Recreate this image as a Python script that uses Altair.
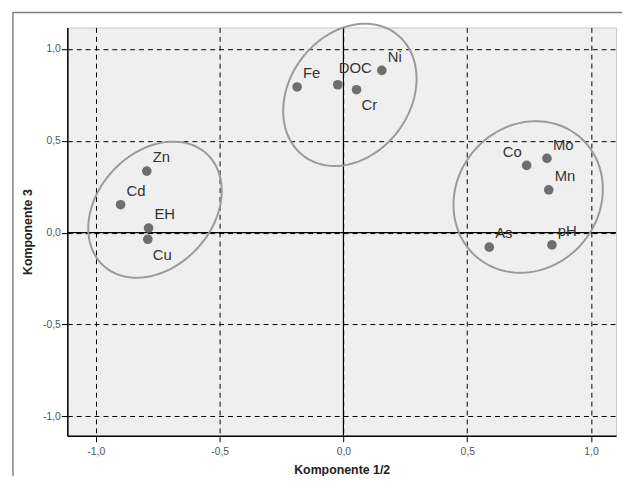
import altair as alt
import numpy as np
import pandas as pd

# ---- data ----
names = ["Zn", "Cd", "EH", "Cu", "Fe", "DOC", "Cr", "Ni", "Co", "Mo", "Mn", "As", "pH"]
comp12 = [-0.794, -0.900, -0.787, -0.790, -0.187, -0.023, 0.053, 0.155, 0.740, 0.822, 0.829, 0.589, 0.842]
comp3 = [0.335, 0.152, 0.025, -0.036, 0.793, 0.805, 0.778, 0.883, 0.366, 0.404, 0.233, -0.079, -0.067]

tick_values = [-1.0, -0.5, 0.0, 0.5, 1.0]

# group ellipses: centre (data units), semi-axes (px), tilt (deg)
ell_cx = [-0.761, 0.026, 0.746]
ell_cy = [0.125, 0.750, 0.194]
ell_a = [77.0, 77.5, 80.0]
ell_b = [58.0, 61.0, 72.0]
ell_rot = [47.0, 53.0, 49.0]

# ---- layout ----
W, H = 555, 413
xdom = [-1.115, 1.101]
ydom = [-1.106, 1.117]
kx = W / (xdom[1] - xdom[0])
ky = H / (ydom[1] - ydom[0])

placement = {"Co": "left", "Cu": "below", "Cr": "below", "DOC": "top"}
pts = pd.DataFrame({"name": names, "x": comp12, "y": comp3})
pts["place"] = [placement.get(n, "right") for n in names]

rows = []
t = np.linspace(0, 2 * np.pi, 121)
for i in range(len(ell_cx)):
    th = np.deg2rad(ell_rot[i])
    px = ell_a[i] * np.cos(t) * np.cos(th) - ell_b[i] * np.sin(t) * np.sin(th)
    py = ell_a[i] * np.cos(t) * np.sin(th) + ell_b[i] * np.sin(t) * np.cos(th)
    for j in range(len(t)):
        rows.append({"g": i, "o": j, "x": ell_cx[i] + px[j] / kx, "y": ell_cy[i] + py[j] / ky})
ell = pd.DataFrame(rows)

xs = alt.Scale(domain=xdom, nice=False, zero=False)
ys = alt.Scale(domain=ydom, nice=False, zero=False)
lab = "replace(replace(format(datum.value, '.1f'), '.', ','), '\u2212', '-')"

xaxis = alt.Axis(values=tick_values, labelExpr=lab, title="Komponente 1/2", grid=True,
                 gridDash=[5, 4], gridColor="#000000", gridWidth=1, gridOpacity=1,
                 domainColor="#000000", domainWidth=1.5, tickColor="#000000", tickSize=6,
                 labelFont="Liberation Sans", labelFontSize=10.5, labelColor="#555555", labelPadding=5,
                 titleFont="Liberation Sans", titleFontSize=12.5, titleFontWeight="bold",
                 titleColor="#222222", titlePadding=7)
yaxis = alt.Axis(values=tick_values, labelExpr=lab, title="Komponente 3", grid=True,
                 gridDash=[5, 4], gridColor="#000000", gridWidth=1, gridOpacity=1,
                 domainColor="#000000", domainWidth=1.5, tickColor="#000000", tickSize=6,
                 labelFont="Liberation Sans", labelFontSize=10.5, labelColor="#555555", labelPadding=1,
                 titleFont="Liberation Sans", titleFontSize=12.5, titleFontWeight="bold",
                 titleColor="#222222", titlePadding=8)

base = alt.Chart(pts)
pointlayer = base.mark_circle(size=95, color="#6e6e6e", opacity=1).encode(
    x=alt.X("x:Q", scale=xs, axis=xaxis),
    y=alt.Y("y:Q", scale=ys, axis=yaxis),
)

def labels(place, align, dx, dy):
    return base.transform_filter(alt.datum.place == place).mark_text(
        align=align, baseline="middle", dx=dx, dy=dy, font="Liberation Sans",
        fontSize=15, color="#333333"
    ).encode(x=alt.X("x:Q", scale=xs), y=alt.Y("y:Q", scale=ys), text="name:N")

lab_right = labels("right", "left", 6, -14)
lab_top = labels("top", "left", 1, -17)
lab_left = labels("left", "right", -5, -13)
lab_below = labels("below", "left", 5, 16)

ellipses = alt.Chart(ell).mark_line(color="#9a9a9a", strokeWidth=2).encode(
    x=alt.X("x:Q", scale=xs), y=alt.Y("y:Q", scale=ys), detail="g:N", order="o:Q"
)

zero_df = pd.DataFrame({"v": [0.0]})
vzero = alt.Chart(zero_df).mark_rule(color="#000000", strokeWidth=1.2).encode(x=alt.X("v:Q", scale=xs))
hzero = alt.Chart(zero_df).mark_rule(color="#000000", strokeWidth=1.2).encode(y=alt.Y("v:Q", scale=ys))

frame = alt.Chart(zero_df).mark_rect(fill=None, stroke="#808080", strokeWidth=1.5).encode(
    x=alt.value(-55), x2=alt.value(W + 80), y=alt.value(-15), y2=alt.value(H + 80)
)

chart = alt.layer(frame, vzero, hzero, ellipses, pointlayer, lab_right, lab_top, lab_left, lab_below).properties(
    width=W, height=H,
    autosize=alt.AutoSizeParams(type="none"),
    padding={"left": 60, "top": 17, "right": 6, "bottom": 38},
    background="#ffffff",
).configure_view(fill="#efefef", stroke="#c8c8c8", strokeWidth=1)

chart.save("out.html", embed_options={"renderer": "svg", "actions": False})
